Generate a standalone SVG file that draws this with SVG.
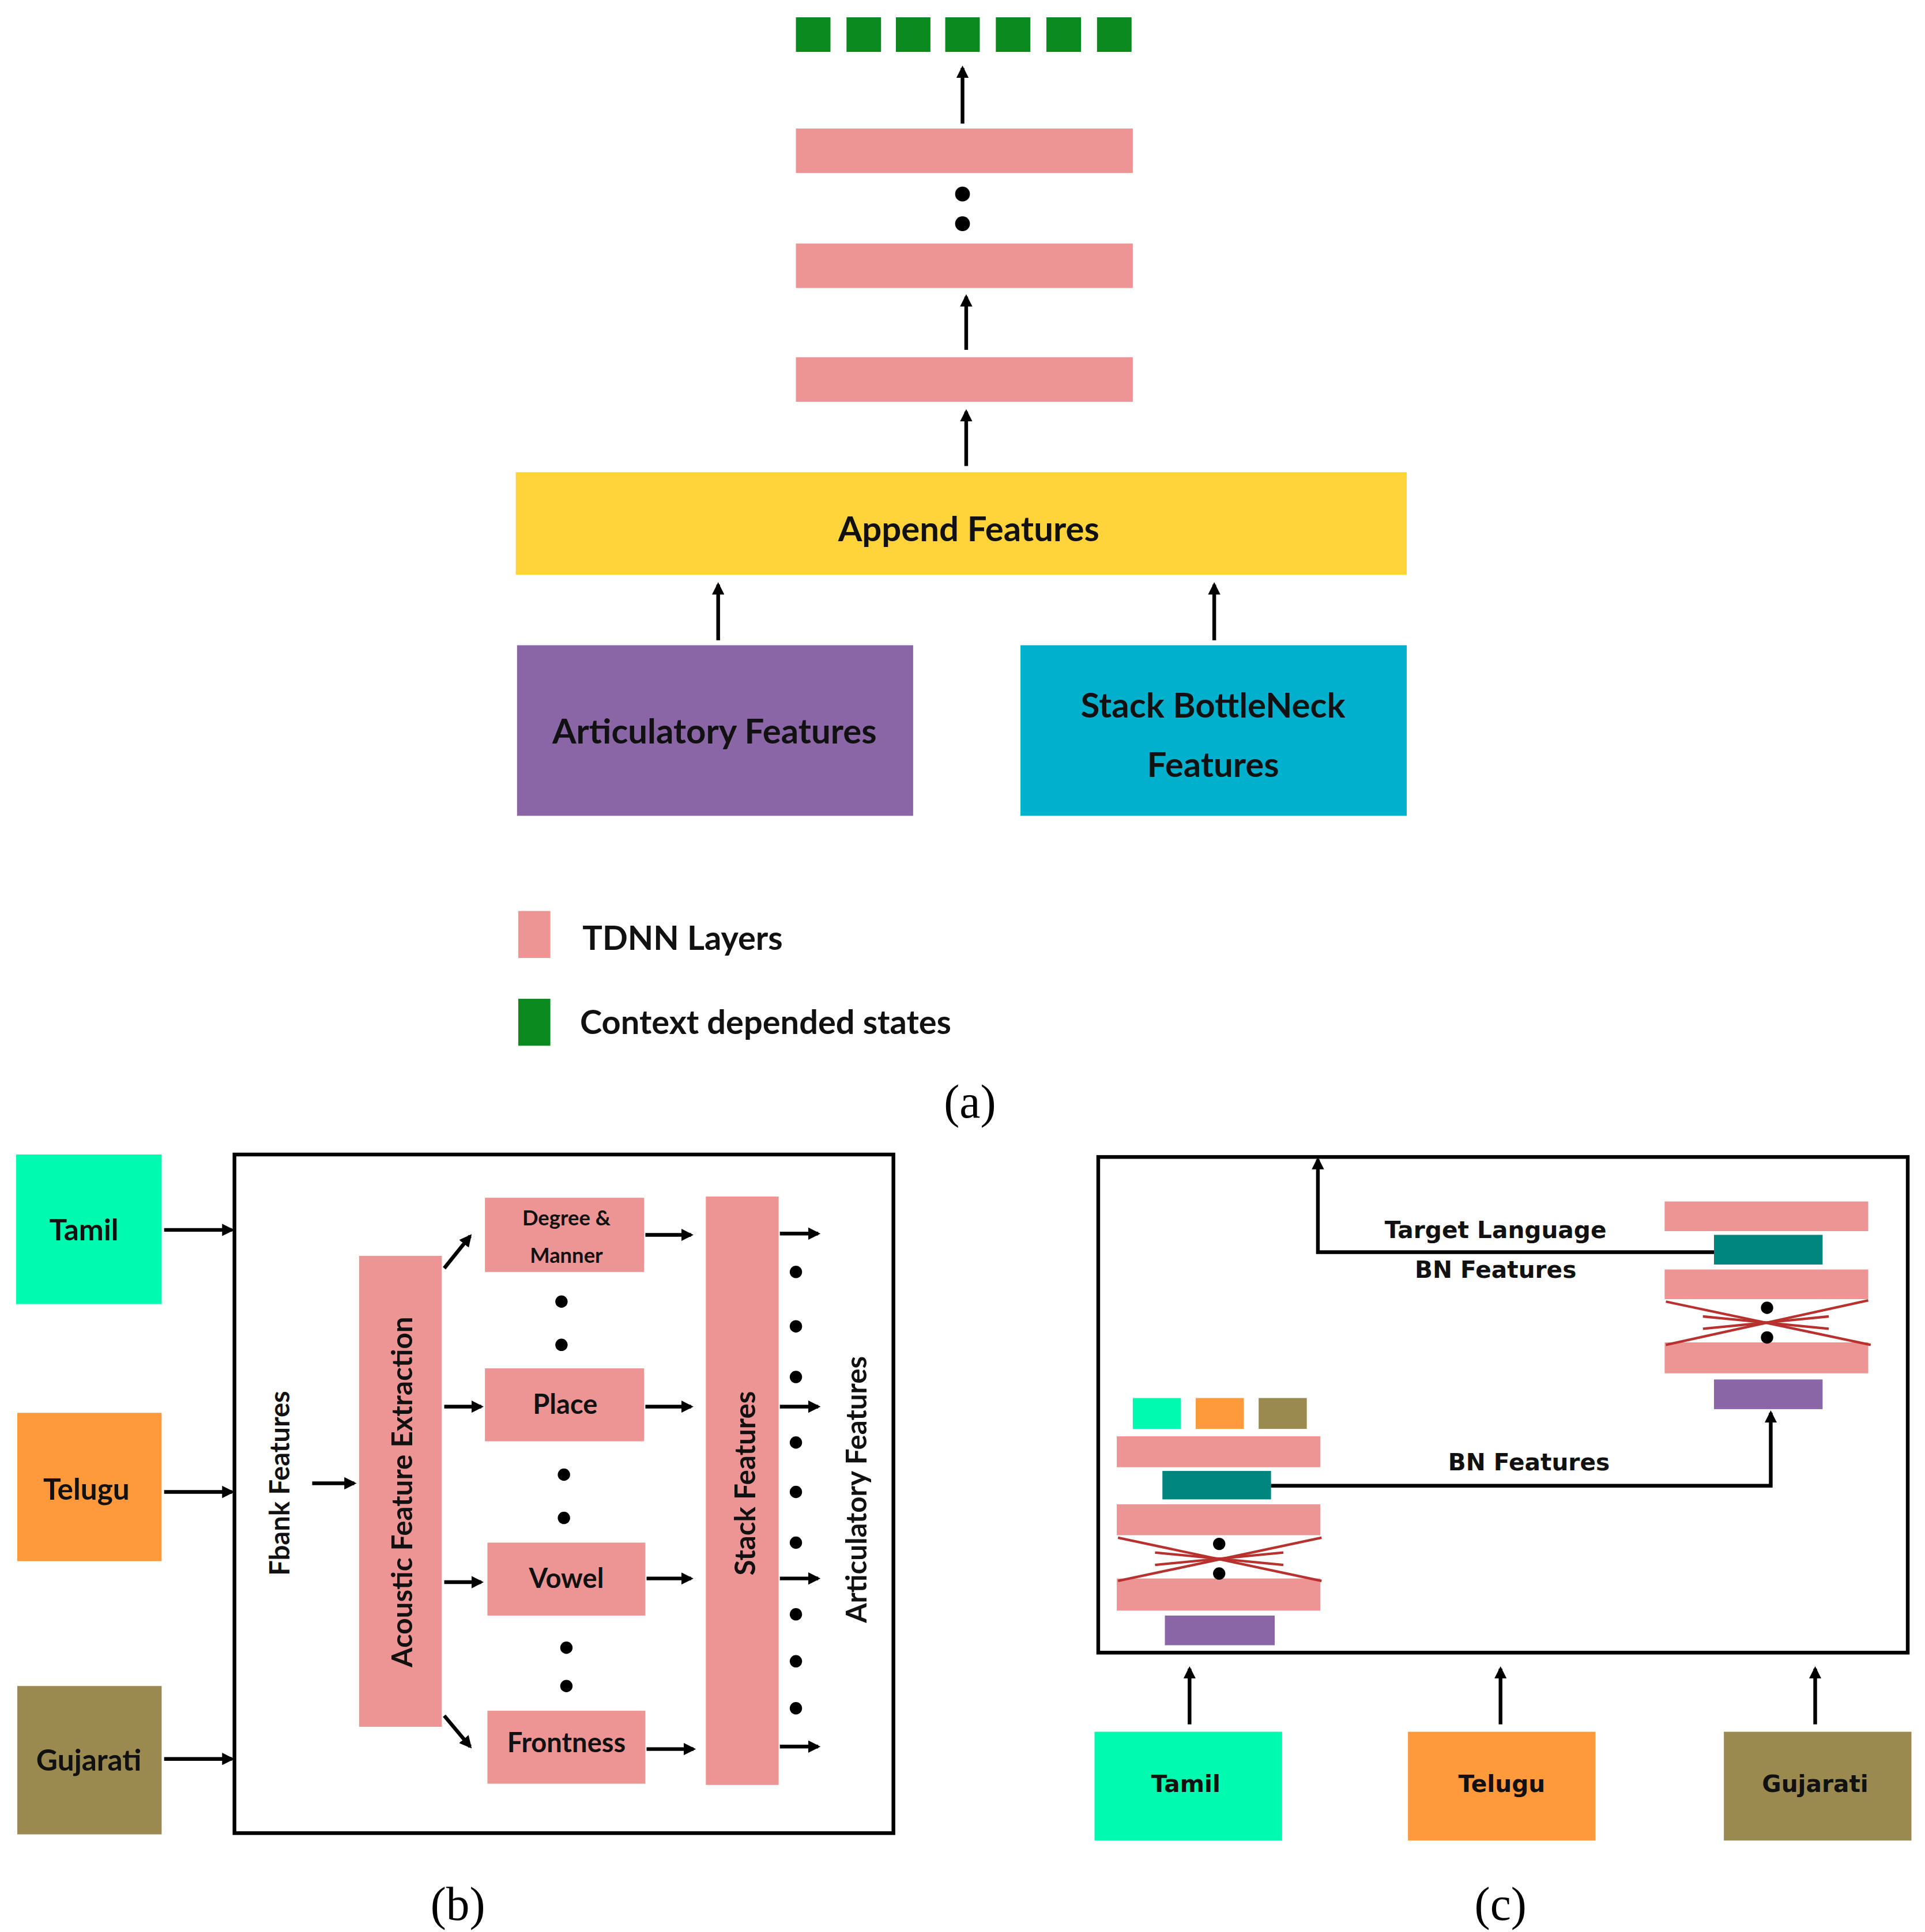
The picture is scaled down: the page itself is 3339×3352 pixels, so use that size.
<svg xmlns="http://www.w3.org/2000/svg" width="3339" height="3352" viewBox="0 0 3339 3352">
<style>
.t{font-family:Lato,"Liberation Sans",sans-serif;font-weight:bold;fill:#111;text-anchor:middle;dominant-baseline:central}
.v{font-family:"DejaVu Sans",Verdana,sans-serif;font-weight:bold;fill:#111;text-anchor:middle;dominant-baseline:central}
.cap{font-family:"Liberation Serif",serif;fill:#000;text-anchor:middle;font-size:38px}
.pk{fill:#EC9594}.gr{fill:#0A8A1E}.tl{fill:#00857F}.pu{fill:#8B66A6}
.ln{stroke:#000;stroke-width:3;fill:none}
.x{stroke:#B8312F;stroke-width:2;fill:none}
</style>
<defs>
<marker id="ah" markerWidth="10" markerHeight="10" refX="8" refY="5" orient="auto" markerUnits="userSpaceOnUse"><path d="M0,0 L10,5 L0,10 z" fill="#000"/></marker>
</defs>
<rect width="3339" height="3352" fill="#fff"/>
<g transform="scale(2.1404 2.1446)">
<g id="a-outputs">
<rect class="gr" x="645" y="14" width="28" height="28"/><rect class="gr" x="686" y="14" width="28" height="28"/><rect class="gr" x="726" y="14" width="28" height="28"/><rect class="gr" x="766" y="14" width="28" height="28"/><rect class="gr" x="807" y="14" width="28" height="28"/><rect class="gr" x="848" y="14" width="28" height="28"/><rect class="gr" x="889" y="14" width="28" height="28"/>
</g>
<g id="a-tdnn">
<rect class="pk" x="645" y="104" width="273" height="36"/>
<rect class="pk" x="645" y="197" width="273" height="36"/>
<rect class="pk" x="645" y="289" width="273" height="36"/>
<circle cx="780" cy="157" r="6"/><circle cx="780" cy="181" r="6"/>
</g>
<g id="a-append"><rect x="418" y="382" width="722" height="83" fill="#FFD43B"/><text class="t" x="785" y="427" font-size="28">Append Features</text></g>
<g id="a-artic"><rect class="pu" x="419" y="522" width="321" height="138"/><text class="t" x="579" y="591" font-size="28">Articulatory Features</text></g>
<g id="a-sbn"><rect x="827" y="522" width="313" height="138" fill="#00B0CC"/><text class="t" x="983" y="570" font-size="28">Stack BottleNeck</text><text class="t" x="983" y="618" font-size="28">Features</text></g>
<g id="a-legend">
<rect class="pk" x="420" y="737" width="26" height="38"/><text class="t" x="472" y="758" font-size="27" style="text-anchor:start">TDNN Layers</text>
<rect class="gr" x="420" y="808" width="26" height="38"/><text class="t" x="470" y="826" font-size="27" style="text-anchor:start">Context depended states</text>
</g>
<text class="cap" x="786" y="904">(a)</text>

<g id="b-langs">
<rect x="13" y="934" width="118" height="121" fill="#00FBB0"/><text class="t" x="68" y="994" font-size="24">Tamil</text>
<rect x="14" y="1143" width="117" height="120" fill="#FF9A3C"/><text class="t" x="70" y="1204" font-size="24">Telugu</text>
<rect x="14" y="1364" width="117" height="120" fill="#9A8A50"/><text class="t" x="72" y="1423" font-size="24">Gujarati</text>
</g>
<g id="b-box"><rect x="190" y="934" width="534" height="549" fill="none" stroke="#000" stroke-width="3"/>
<text class="t" x="226" y="1200" font-size="22" transform="rotate(-90 226 1200)">Fbank  Features</text></g>
<g id="b-afe"><rect class="pk" x="291" y="1016" width="67" height="381"/><text class="t" x="325" y="1207" font-size="23" transform="rotate(-90 325 1207)">Acoustic Feature Extraction</text></g>
<g id="b-dm"><rect class="pk" x="393" y="969" width="129" height="60"/><text class="t" x="459" y="985" font-size="17">Degree &amp;</text><text class="t" x="459" y="1015" font-size="17">Manner</text></g>
<g id="b-place"><rect class="pk" x="393" y="1107" width="129" height="59"/><text class="t" x="458" y="1135" font-size="22">Place</text></g>
<g id="b-vowel"><rect class="pk" x="395" y="1248" width="128" height="59"/><text class="t" x="459" y="1276" font-size="22">Vowel</text></g>
<g id="b-front"><rect class="pk" x="395" y="1384" width="128" height="59"/><text class="t" x="459" y="1409" font-size="22">Frontness</text></g>
<g id="b-stack"><rect class="pk" x="572" y="968" width="59" height="476"/><text class="t" x="603" y="1200" font-size="23" transform="rotate(-90 603 1200)">Stack Features</text></g>
<text class="t" x="693" y="1205" font-size="23" transform="rotate(-90 693 1205)">Articulatory Features</text>
<g id="b-dots">
<circle cx="455" cy="1053" r="5"/><circle cx="455" cy="1088" r="5"/><circle cx="457" cy="1193" r="5"/><circle cx="457" cy="1228" r="5"/><circle cx="459" cy="1333" r="5"/><circle cx="459" cy="1364" r="5"/>
<circle cx="645" cy="1029" r="5"/><circle cx="645" cy="1073" r="5"/><circle cx="645" cy="1114" r="5"/><circle cx="645" cy="1167" r="5"/><circle cx="645" cy="1207" r="5"/><circle cx="645" cy="1248" r="5"/><circle cx="645" cy="1306" r="5"/><circle cx="645" cy="1344" r="5"/><circle cx="645" cy="1382" r="5"/>
</g>
<text class="cap" x="371" y="1553">(b)</text>

<g id="c-box"><rect x="890" y="936" width="656" height="401" fill="none" stroke="#000" stroke-width="3"/></g>
<g id="c-right">
<rect class="pk" x="1349" y="972" width="165" height="24"/><rect class="tl" x="1389" y="999" width="88" height="24"/><rect class="pk" x="1349" y="1027" width="165" height="24"/>
<rect class="pk" x="1349" y="1086" width="165" height="25"/><rect class="pu" x="1389" y="1116" width="88" height="24"/>
<line class="x" x1="1350" y1="1053" x2="1516" y2="1088"/><line class="x" x1="1350" y1="1088" x2="1514" y2="1052"/><line class="x" x1="1380" y1="1065" x2="1482" y2="1075"/><line class="x" x1="1380" y1="1075" x2="1482" y2="1065"/>
<circle cx="1432" cy="1058" r="5"/><circle cx="1432" cy="1082" r="5"/>
</g>
<g id="c-left">
<rect x="918" y="1131" width="39" height="25" fill="#00FBB0"/><rect x="969" y="1131" width="39" height="25" fill="#FF9A3C"/><rect x="1020" y="1131" width="39" height="25" fill="#9A8A50"/>
<rect class="pk" x="905" y="1162" width="165" height="25"/><rect class="tl" x="942" y="1190" width="88" height="23"/><rect class="pk" x="905" y="1217" width="165" height="25"/>
<rect class="pk" x="905" y="1277" width="165" height="26"/><rect class="pu" x="944" y="1307" width="89" height="24"/>
<line class="x" x1="906" y1="1244" x2="1071" y2="1279"/><line class="x" x1="906" y1="1279" x2="1071" y2="1244"/><line class="x" x1="936" y1="1256" x2="1040" y2="1266"/><line class="x" x1="936" y1="1266" x2="1040" y2="1256"/>
<circle cx="988" cy="1249" r="5"/><circle cx="988" cy="1273" r="5"/>
</g>
<text class="v" x="1212" y="995" font-size="19">Target Language</text>
<text class="v" x="1212" y="1027" font-size="19">BN Features</text>
<text class="v" x="1239" y="1183" font-size="19">BN Features</text>
<g id="c-langs">
<rect x="887" y="1401" width="152" height="88" fill="#00FBB0"/><text class="v" x="961" y="1443" font-size="19">Tamil</text>
<rect x="1141" y="1401" width="152" height="88" fill="#FF9A3C"/><text class="v" x="1217" y="1443" font-size="19">Telugu</text>
<rect x="1397" y="1401" width="152" height="88" fill="#9A8A50"/><text class="v" x="1471" y="1443" font-size="19">Gujarati</text>
</g>
<text class="cap" x="1216" y="1553">(c)</text>

<g id="connectors" class="ln" marker-end="url(#ah)">
<line x1="780" y1="100" x2="780" y2="55"/>
<line x1="783" y1="283" x2="783" y2="240"/>
<line x1="783" y1="377" x2="783" y2="333"/>
<line x1="582" y1="518" x2="582" y2="473"/>
<line x1="984" y1="518" x2="984" y2="473"/>
<line x1="133" y1="995" x2="188" y2="995"/>
<line x1="133" y1="1207" x2="188" y2="1207"/>
<line x1="133" y1="1423" x2="188" y2="1423"/>
<line x1="253" y1="1200" x2="287" y2="1200"/>
<line x1="360" y1="1026" x2="381" y2="1000"/>
<line x1="360" y1="1388" x2="381" y2="1413"/>
<line x1="360" y1="1138" x2="390" y2="1138"/>
<line x1="360" y1="1280" x2="390" y2="1280"/>
<line x1="523" y1="999" x2="560" y2="999"/>
<line x1="523" y1="1138" x2="560" y2="1138"/>
<line x1="524" y1="1277" x2="560" y2="1277"/>
<line x1="524" y1="1415" x2="562" y2="1415"/>
<line x1="632" y1="998" x2="663" y2="998"/>
<line x1="632" y1="1138" x2="663" y2="1138"/>
<line x1="632" y1="1277" x2="663" y2="1277"/>
<line x1="632" y1="1413" x2="663" y2="1413"/>
<polyline points="1389,1013 1068,1013 1068,938"/>
<polyline points="1030,1202 1435,1202 1435,1143"/>
<line x1="964" y1="1395" x2="964" y2="1350"/>
<line x1="1216" y1="1395" x2="1216" y2="1350"/>
<line x1="1471" y1="1395" x2="1471" y2="1350"/>
</g>
</g>
</svg>
